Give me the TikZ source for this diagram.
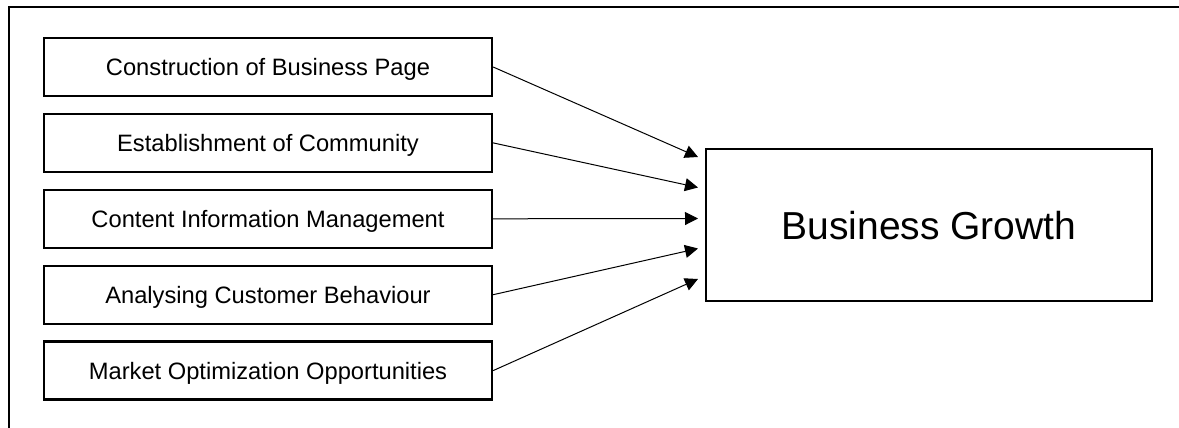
\documentclass[tikz,border=0pt]{standalone}
\usepackage{fontspec}
\setmainfont{Liberation Sans}
\usetikzlibrary{positioning,arrows.meta}
\tikzset{
  factor/.style={draw, line width=2.3pt, minimum width=448pt, minimum height=58pt, inner sep=0pt, text height=17pt, text depth=0pt, font=\fontsize{23.7}{28}\selectfont},
  goal/.style={draw, line width=2.6pt, minimum width=446pt, minimum height=152pt, inner sep=0pt, text height=28pt, text depth=0pt, font=\fontsize{39}{46}\selectfont},
  link/.style={line width=1pt, -{Triangle[length=13pt,width=13pt]}}
}
\begin{document}
\begin{tikzpicture}[x=1pt,y=-1pt, node distance=15.6pt]
\useasboundingbox (0,0) rectangle (1179,428);
%cadre
\draw[line width=2pt] (9,428) -- (9,7) -- (1179,7);
%les cinq facteurs
\node[factor] (page) at (268,67) {Construction of Business Page};
\node[factor, below=of page] (community) {Establishment of Community};
\node[factor, below=of community] (content) {Content Information Management};
\node[factor, below=of content] (behaviour) {Analysing Customer Behaviour};
\node[factor, below=of behaviour] (market) {Market Optimization Opportunities};
\node[goal] (growth) at (929,225) {Business Growth};
\coordinate (in1) at (698,157);
\coordinate (in2) at (698,187.5);
\coordinate (in3) at (698,218.5);
\coordinate (in4) at (698,248.5);
\coordinate (in5) at (698,279);
\draw[link] (page.east) -- (in1);
\draw[link] (community.east) -- (in2);
\draw[link] (content.east) -- (in3);
\draw[link] (behaviour.east) -- (in4);
\draw[link] (market.east) -- (in5);
\end{tikzpicture}
\end{document}
